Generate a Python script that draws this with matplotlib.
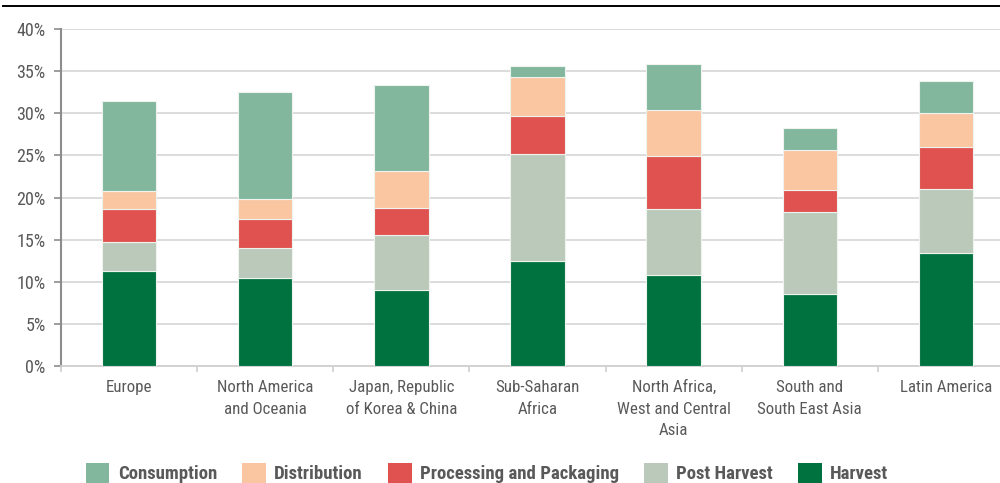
import matplotlib.pyplot as plt
import numpy as np
from matplotlib.lines import Line2D
from matplotlib.patches import Patch

# regions and loss shares (% of food lost at each stage)
regions = ["Europe", "North America\nand Oceania", "Japan, Republic\nof Korea & China",
           "Sub-Saharan\nAfrica", "North Africa,\nWest and Central\nAsia",
           "South and\nSouth East Asia", "Latin America"]
harvest = [11.3, 10.5, 9.0, 12.5, 10.8, 8.6, 13.4]
post_harvest = [3.4, 3.5, 6.6, 12.7, 7.8, 9.7, 7.6]
processing = [3.9, 3.4, 3.1, 4.5, 6.3, 2.6, 5.0]
distribution = [2.2, 2.4, 4.4, 4.6, 5.5, 4.7, 4.0]
consumption = [10.6, 12.7, 10.3, 1.3, 5.5, 2.6, 3.8]

series = [("Harvest", harvest, "#00723f"),
          ("Post Harvest", post_harvest, "#bbc9bb"),
          ("Processing and Packaging", processing, "#e0524f"),
          ("Distribution", distribution, "#fac6a2"),
          ("Consumption", consumption, "#82b79e")]

plt.rcParams['font.family'] = ['Roboto Condensed', 'DejaVu Sans']
txt = "#595959"

fig = plt.figure(figsize=(10, 4.83), dpi=100)
ax = fig.add_axes([0.061, 0.2422, 0.953, 0.6977])

x = np.arange(len(regions))
bottom = np.zeros(len(regions))
for name, vals, col in series:
    v = np.array(vals) / 100
    ax.bar(x, v, width=0.4, bottom=bottom, color=col, edgecolor="#eef3ee",
           linewidth=0.8, label=name, zorder=3)
    bottom += v

ax.set_ylim(0, 0.40)
ax.set_xlim(-0.5, len(regions) - 0.5)
ax.set_yticks(np.arange(0, 0.41, 0.05))
ax.set_yticklabels([f"{int(round(t * 100))}%" for t in np.arange(0, 0.41, 0.05)])
ax.yaxis.grid(True, color="#d9d9d9", linewidth=1.3, zorder=0)
ax.set_axisbelow(True)

ax.set_xticks(x)
ax.set_xticklabels(regions, linespacing=1.55)
ax.set_xticks(np.arange(-0.5, len(regions)), minor=True)
ax.tick_params(axis="x", which="major", length=0, pad=10, labelsize=12.2, labelcolor=txt)
ax.tick_params(axis="x", which="minor", length=4, width=1.2, color="#d0d0d0")
ax.tick_params(axis="y", length=5, width=1.2, color="#8c8c8c", pad=6,
               labelsize=13, labelcolor=txt)

for s in ["top", "right"]:
    ax.spines[s].set_visible(False)
ax.spines["left"].set_color("#8c8c8c")
ax.spines["left"].set_linewidth(1.5)
ax.spines["bottom"].set_color("#d0d0d0")
ax.spines["bottom"].set_linewidth(1.3)

# black rule at the top of the figure
fig.add_artist(Line2D([0.003, 1.0], [0.9876, 0.9876], color="black", linewidth=1.4,
                      transform=fig.transFigure))

handles = [Patch(facecolor=c, edgecolor="none", label=n) for n, _, c in series[::-1]]
leg = fig.legend(handles=handles, loc="center", bbox_to_anchor=(0.487, 0.021), ncol=5,
                 frameon=False, handlelength=1.25, handleheight=1.3, handletextpad=0.45,
                 columnspacing=1.35, prop={"weight": "bold", "size": 13.5})
for t in leg.get_texts():
    t.set_color(txt)

fig.savefig("out.png", dpi=100)
